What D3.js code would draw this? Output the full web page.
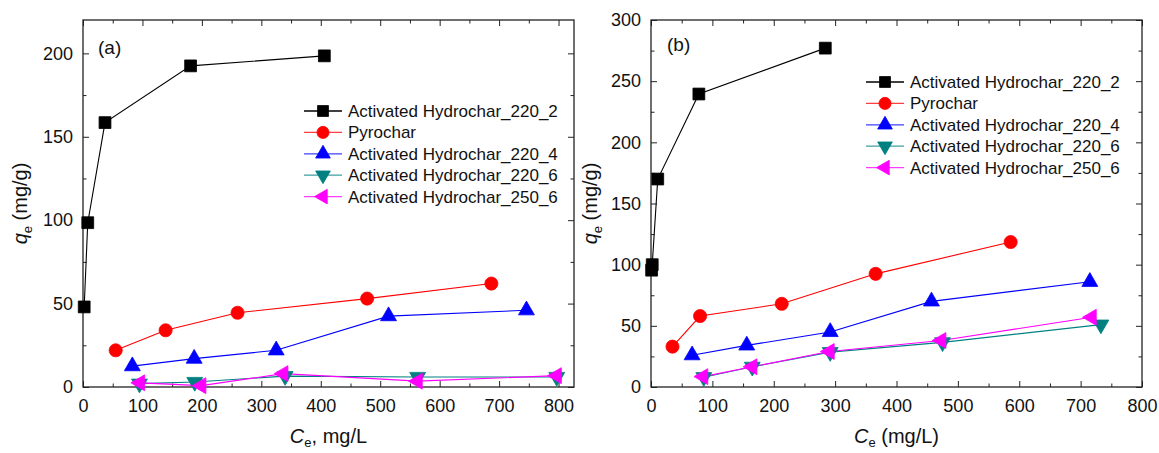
<!DOCTYPE html>
<html>
<head>
<meta charset="utf-8">
<script src="https://cdn.jsdelivr.net/npm/d3@7"></script>
<style>
  body { margin: 0; background: #fff; }
  svg text { font-family: "Liberation Sans", Arial, sans-serif; fill: #111; }
</style>
</head>
<body>
<div class="chart"></div>
<script>
// series names shown in the legends
let seriesNames = ["Activated Hydrochar_220_2", "Pyrochar", "Activated Hydrochar_220_4",
                   "Activated Hydrochar_220_6", "Activated Hydrochar_250_6"];

// panel (a): [Ce, qe] pairs
let a_220_2 = [[2, 48], [8, 98.5], [37, 158.5], [181, 192.5], [406, 198.5]];
let a_pyro  = [[55, 22], [139, 34], [260, 44.5], [478, 53], [687, 62]];
let a_220_4 = [[83, 12.5], [187, 17], [325, 22], [514, 42.5], [746, 46]];
let a_220_6 = [[95, 2], [188, 3], [340, 6.5], [563, 6], [797, 6]];
let a_250_6 = [[96, 2.5], [199, 0.8], [337, 8], [563, 3.5], [797, 6.8]];

// panel (b): [Ce, qe] pairs
let b_220_2 = [[1, 95.5], [2, 100], [11, 170], [78, 239.5], [284, 277]];
let b_pyro  = [[35, 33], [80, 58], [213, 68], [366, 92.5], [586, 118.5]];
let b_220_4 = [[67, 26], [156, 34], [292, 45], [457, 70], [715, 86]];
let b_220_6 = [[86, 8], [165, 16.5], [292, 28.5], [475, 36.5], [733, 51]];
let b_250_6 = [[85, 8.5], [165, 16.5], [291, 29], [473, 38], [718, 57]];

// ticks
let xTicks = [0, 100, 200, 300, 400, 500, 600, 700, 800];
let yTicksA = [0, 50, 100, 150, 200];
let yTicksB = [0, 50, 100, 150, 200, 250, 300];

// styles for the five series
let colors = ["#000000", "#ff0000", "#0000ff", "#008080", "#ff00ff"];
let symbols = [
  {type: d3.symbolSquare, size: 140, rot: 0},
  {type: d3.symbolCircle, size: 135, rot: 0},
  {type: d3.symbolTriangle, size: 110, rot: 0},
  {type: d3.symbolTriangle, size: 110, rot: 180},
  {type: d3.symbolTriangle, size: 110, rot: -90}
];

let svgW = 1159, svgH = 453;
let svg = d3.select(".chart").append("svg")
  .attr("width", svgW).attr("height", svgH);

function drawPanel(p) {
  let x = d3.scaleLinear().domain(p.xDomain).range([p.left, p.right]);
  let y = d3.scaleLinear().domain(p.yDomain).range([p.bottom, p.top]);
  let g = svg.append("g");

  let xMinor = d3.range(50, p.xDomain[1], 100);
  let yMinor = d3.range(25, p.yDomain[1], 50);

  // bottom / top axes (ticks inward)
  g.append("g").attr("transform", `translate(0,${p.bottom})`)
    .call(d3.axisBottom(x).tickValues(xTicks).tickSize(-6).tickPadding(12).tickFormat(d3.format("d")));
  g.append("g").attr("transform", `translate(0,${p.bottom})`)
    .call(d3.axisBottom(x).tickValues(xMinor).tickSize(-3.5).tickFormat(""));
  g.append("g").attr("transform", `translate(0,${p.top})`)
    .call(d3.axisTop(x).tickValues(xTicks).tickSize(-6).tickFormat(""));
  g.append("g").attr("transform", `translate(0,${p.top})`)
    .call(d3.axisTop(x).tickValues(xMinor).tickSize(-3.5).tickFormat(""));

  // left / right axes
  g.append("g").attr("transform", `translate(${p.left},0)`)
    .call(d3.axisLeft(y).tickValues(p.yTicks).tickSize(-6).tickPadding(10));
  g.append("g").attr("transform", `translate(${p.left},0)`)
    .call(d3.axisLeft(y).tickValues(yMinor).tickSize(-3.5).tickFormat(""));
  g.append("g").attr("transform", `translate(${p.right},0)`)
    .call(d3.axisRight(y).tickValues(p.yTicks).tickSize(-6).tickFormat(""));
  g.append("g").attr("transform", `translate(${p.right},0)`)
    .call(d3.axisRight(y).tickValues(yMinor).tickSize(-3.5).tickFormat(""));

  g.selectAll(".domain").remove();
  g.selectAll(".tick line").attr("stroke", "#222").attr("stroke-width", 1);
  g.selectAll(".tick text").style("font-size", "18px").attr("fill", "#111");

  // frame
  g.append("rect")
    .attr("x", p.left).attr("y", p.top)
    .attr("width", p.right - p.left).attr("height", p.bottom - p.top)
    .attr("fill", "none").attr("stroke", "#222").attr("stroke-width", 1.3);

  // series
  let line = d3.line().x(d => x(d[0])).y(d => y(d[1]));
  p.series.forEach(function(data, i) {
    g.append("path").datum(data)
      .attr("d", line)
      .attr("fill", "none")
      .attr("stroke", colors[i])
      .attr("stroke-width", 1.1);
  });
  p.series.forEach(function(data, i) {
    let s = symbols[i];
    g.selectAll(null).data(data).enter().append("path")
      .attr("d", d3.symbol().type(s.type).size(s.size))
      .attr("transform", d => `translate(${x(d[0])},${y(d[1])}) rotate(${s.rot})`)
      .attr("fill", colors[i])
      .attr("stroke", colors[i])
      .attr("stroke-width", 0.8);
  });

  // panel label
  g.append("text").attr("x", p.labelX).attr("y", p.labelY)
    .style("font-size", "19px").text(p.label);

  // legend
  let leg = g.append("g").attr("transform", `translate(${p.legX},${p.legY})`);
  seriesNames.forEach(function(name, i) {
    let row = leg.append("g").attr("transform", `translate(0,${i * 21.4})`);
    row.append("line").attr("x1", 0).attr("x2", 38).attr("y1", 0).attr("y2", 0)
      .attr("stroke", colors[i]).attr("stroke-width", 1.3).attr("opacity", i === 0 ? 1 : 0.75);
    let s = symbols[i];
    row.append("path")
      .attr("d", d3.symbol().type(s.type).size(s.size * 0.85))
      .attr("transform", `translate(19,0) rotate(${s.rot})`)
      .attr("fill", colors[i]).attr("stroke", colors[i]).attr("stroke-width", 0.8);
    row.append("text").attr("x", 44).attr("y", 6)
      .style("font-size", "17px").text(name);
  });

  // y title: qe (mg/g)
  let yt = g.append("text")
    .attr("transform", `translate(${p.yTitleX},${(p.top + p.bottom) / 2}) rotate(-90)`)
    .attr("text-anchor", "middle")
    .style("font-size", "20px");
  yt.append("tspan").style("font-style", "italic").text("q");
  yt.append("tspan").attr("dy", 5).style("font-size", "13px").text("e");
  yt.append("tspan").attr("dy", -5).text(" (mg/g)");

  // x title
  let xt = g.append("text")
    .attr("x", (p.left + p.right) / 2).attr("y", 443)
    .attr("text-anchor", "middle")
    .style("font-size", "20px");
  xt.append("tspan").style("font-style", "italic").text("C");
  xt.append("tspan").attr("dy", 4).style("font-size", "13px").text("e");
  xt.append("tspan").attr("dy", -4).text(p.xTitleRest);
}

drawPanel({
  left: 83, right: 574, top: 20, bottom: 387,
  xDomain: [0, 826], yDomain: [0, 220], yTicks: yTicksA,
  series: [a_220_2, a_pyro, a_220_4, a_220_6, a_250_6],
  label: "(a)", labelX: 98, labelY: 54,
  legX: 304, legY: 111,
  yTitleX: 27, xTitleRest: ", mg/L"
});

drawPanel({
  left: 651, right: 1142, top: 20, bottom: 387,
  xDomain: [0, 800], yDomain: [0, 300], yTicks: yTicksB,
  series: [b_220_2, b_pyro, b_220_4, b_220_6, b_250_6],
  label: "(b)", labelX: 667, labelY: 51,
  legX: 866, legY: 82,
  yTitleX: 597, xTitleRest: " (mg/L)"
});
</script>
</body>
</html>
